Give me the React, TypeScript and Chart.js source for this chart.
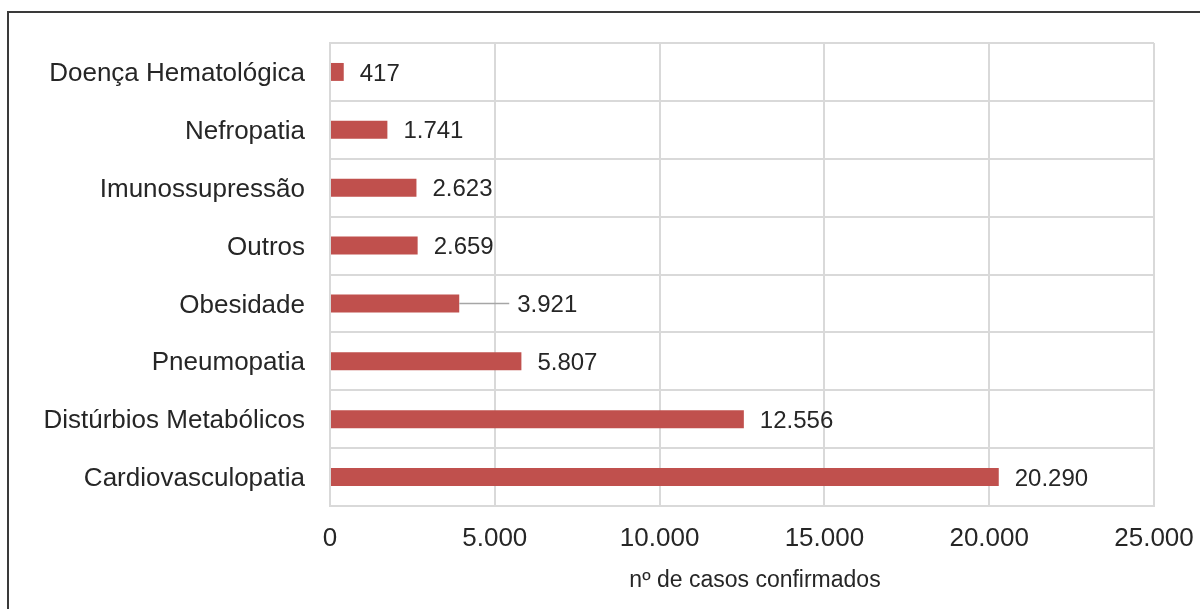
import React, { useEffect, useRef } from "react";
import { Chart, registerables } from "chart.js";

Chart.register(...registerables);

// Comorbidities, listed from top to bottom
const categories: string[] = [
  "Doença Hematológica",
  "Nefropatia",
  "Imunossupressão",
  "Outros",
  "Obesidade",
  "Pneumopatia",
  "Distúrbios Metabólicos",
  "Cardiovasculopatia",
];

// Confirmed cases per comorbidity
const confirmedCases: number[] = [417, 1741, 2623, 2659, 3921, 5807, 12556, 20290];

// Value axis range and step
const axisMin = 0;
const axisMax = 25000;
const axisStep = 5000;

const axisTitle = "nº de casos confirmados";

const FONT = "'Liberation Sans', Arial, Helvetica, sans-serif";
const TEXT = "#262626";
const GRID = "#d9d9d9";
const BAR = "#c0504d";

// Brazilian number format: 20290 -> "20.290"
function fmt(n: number): string {
  return String(Math.round(n)).replace(/\B(?=(\d{3})+(?!\d))/g, ".");
}

// Value labels after each bar; one label is pushed aside with a leader line
const valueLabels = {
  id: "valueLabels",
  afterDatasetsDraw(chart: any) {
    const ctx = chart.ctx;
    const meta = chart.getDatasetMeta(0);
    const values = chart.data.datasets[0].data as number[];
    const labels = chart.data.labels as string[];
    const shifted: Record<string, number> = { Obesidade: 42 };
    ctx.save();
    ctx.font = `24px ${FONT}`;
    ctx.fillStyle = TEXT;
    ctx.textAlign = "left";
    ctx.textBaseline = "middle";
    meta.data.forEach((bar: any, i: number) => {
      const gap = 16;
      const extra = shifted[labels[i]] || 0;
      const y = bar.y + 2;
      if (extra) {
        ctx.save();
        ctx.strokeStyle = "#a6a6a6";
        ctx.lineWidth = 1.5;
        ctx.beginPath();
        ctx.moveTo(bar.x, bar.y);
        ctx.lineTo(bar.x + gap + extra - 8, bar.y);
        ctx.stroke();
        ctx.restore();
      }
      ctx.fillText(fmt(values[i]), bar.x + gap + extra, y);
    });
    ctx.restore();
  },
};

// Axis title, centred a little right of the plot centre
const axisTitlePlugin = {
  id: "axisTitlePlugin",
  afterDraw(chart: any) {
    const ctx = chart.ctx;
    const area = chart.chartArea;
    ctx.save();
    ctx.font = `23px ${FONT}`;
    ctx.fillStyle = TEXT;
    ctx.textAlign = "center";
    ctx.textBaseline = "middle";
    ctx.fillText(axisTitle, (area.left + area.right) / 2 + 13, chart.height - 28);
    ctx.restore();
  },
};

function BarChart() {
  const ref = useRef<HTMLCanvasElement | null>(null);

  useEffect(() => {
    if (!ref.current) return;
    const chart = new Chart(ref.current, {
      type: "bar",
      data: {
        labels: categories,
        datasets: [
          {
            data: confirmedCases,
            backgroundColor: BAR,
            borderWidth: 0,
            barPercentage: 0.31,
            categoryPercentage: 1,
          },
        ],
      },
      options: {
        indexAxis: "y",
        responsive: false,
        animation: false,
        devicePixelRatio: 1,
        layout: { padding: { top: 43, right: 46, bottom: 0, left: 0 } },
        plugins: {
          legend: { display: false },
          tooltip: { enabled: false },
          title: { display: false },
        },
        scales: {
          x: {
            type: "linear",
            position: "bottom",
            min: axisMin,
            max: axisMax,
            ticks: {
              stepSize: axisStep,
              color: TEXT,
              font: { family: FONT, size: 26 },
              padding: 17,
              maxRotation: 0,
              callback: (v: any) => fmt(Number(v)),
            },
            grid: { color: GRID, lineWidth: 2, drawTicks: false },
            border: { color: GRID, width: 2 },
            afterFit: (scale: any) => {
              scale.height = 103;
              scale.paddingLeft = 0;
              scale.paddingRight = 0;
            },
          },
          y: {
            type: "category",
            ticks: {
              color: TEXT,
              font: { family: FONT, size: 26 },
              padding: 25,
              labelOffset: 2,
            },
            grid: { color: GRID, lineWidth: 2, drawTicks: false, offset: true },
            border: { color: GRID, width: 2 },
            afterFit: (scale: any) => {
              scale.width = 330;
            },
          },
        },
      },
      plugins: [valueLabels, axisTitlePlugin],
    });
    return () => chart.destroy();
  }, []);

  return (
    <canvas
      ref={ref}
      width={1200}
      height={609}
      style={{ position: "fixed", left: 0, top: 0, width: 1200, height: 609 }}
    />
  );
}

export default function App() {
  return (
    <div>
      <div
        style={{
          position: "fixed",
          left: 7,
          top: 11,
          width: 1300,
          height: 700,
          borderTop: "2px solid #3a3a3a",
          borderLeft: "2px solid #3a3a3a",
          pointerEvents: "none",
        }}
      />
      <BarChart />
    </div>
  );
}
